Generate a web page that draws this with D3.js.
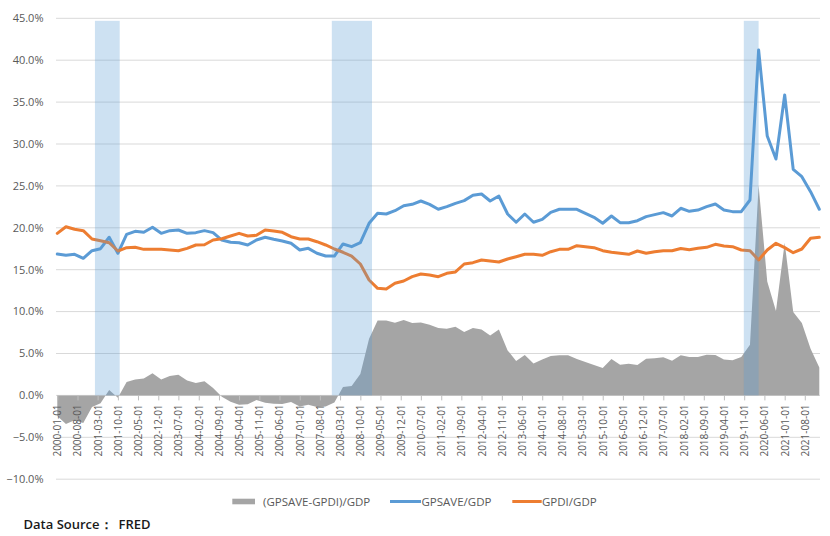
<!DOCTYPE html>
<html>
<head>
<meta charset="utf-8">
<script src="https://cdn.jsdelivr.net/npm/d3@7"></script>
<style>
  html, body { margin: 0; padding: 0; background: #fff; }
  svg { display: block; font-family: "Open Sans", "DejaVu Sans", sans-serif; }
</style>
</head>
<body>
<svg id="chart" width="830" height="536"></svg>
<script>
// ---------- DATA ----------
const firstQuarter = "2000-01-01";
const lastQuarter = "2022-01-01";

const gpsaveGdp = [
  16.87, 16.72, 16.84, 16.36, 17.27, 17.51, 18.87, 16.96, 19.22, 19.58,
  19.46, 20.06, 19.34, 19.66, 19.74, 19.34, 19.42, 19.66, 19.42, 18.54,
  18.27, 18.22, 17.95, 18.54, 18.87, 18.63, 18.42, 18.15, 17.35, 17.55,
  16.96, 16.63, 16.63, 18.07, 17.75, 18.22, 20.54, 21.73, 21.65, 22.04,
  22.64, 22.80, 23.20, 22.80, 22.21, 22.52, 22.92, 23.24, 23.88, 24.03,
  23.20, 23.79, 21.65, 20.66, 21.65, 20.66, 21.01, 21.85, 22.21, 22.21,
  22.21, 21.73, 21.25, 20.54, 21.41, 20.61, 20.61, 20.85, 21.33, 21.57,
  21.81, 21.41, 22.33, 21.97, 22.12, 22.52, 22.84, 22.12, 21.93, 21.93,
  23.32, 41.22, 30.95, 28.21, 35.85, 26.98, 26.10, 24.31, 22.21
];

const gpdiGdp = [
  19.34, 20.13, 19.82, 19.66, 18.66, 18.46, 18.22, 17.23, 17.63, 17.67,
  17.43, 17.43, 17.43, 17.35, 17.27, 17.55, 17.95, 17.98, 18.54, 18.70,
  19.02, 19.34, 19.02, 19.10, 19.74, 19.62, 19.46, 18.94, 18.66, 18.66,
  18.34, 17.95, 17.47, 17.08, 16.63, 15.68, 13.77, 12.78, 12.70, 13.38,
  13.65, 14.17, 14.49, 14.37, 14.17, 14.57, 14.73, 15.68, 15.84, 16.16,
  16.04, 15.92, 16.28, 16.55, 16.84, 16.84, 16.72, 17.15, 17.43, 17.43,
  17.86, 17.75, 17.63, 17.27, 17.08, 16.96, 16.84, 17.23, 16.96, 17.15,
  17.27, 17.27, 17.53, 17.39, 17.55, 17.67, 18.03, 17.83, 17.75, 17.35,
  17.27, 16.16, 17.35, 18.15, 17.63, 17.03, 17.47, 18.75, 18.87
];

const gapGdp = [
  -2.47, -3.41, -2.98, -3.30, -1.39, -0.95, 0.65, -0.27, 1.59, 1.91,
  2.03, 2.63, 1.91, 2.31, 2.47, 1.79, 1.47, 1.68, 0.88, -0.16,
  -0.75, -1.12, -1.07, -0.56, -0.87, -0.99, -1.04, -0.79, -1.31, -1.11,
  -1.38, -1.32, -0.84, 0.99, 1.12, 2.54, 6.77, 8.95, 8.95, 8.66,
  8.99, 8.63, 8.71, 8.43, 8.04, 7.95, 8.19, 7.56, 8.04, 7.87,
  7.16, 7.87, 5.37, 4.11, 4.81, 3.82, 4.29, 4.70, 4.78, 4.78,
  4.35, 3.98, 3.62, 3.27, 4.33, 3.65, 3.77, 3.62, 4.37, 4.42,
  4.54, 4.14, 4.80, 4.58, 4.57, 4.85, 4.81, 4.29, 4.18, 4.58,
  6.05, 25.06, 13.60, 10.06, 18.22, 9.95, 8.63, 5.56, 3.34
];

const recessions = [
  ["2001-02-01", "2001-10-20"],
  ["2007-12-05", "2009-02-01"],
  ["2019-10-28", "2020-04-01"]
];
const recessionTop = 44.7;

const xTickLabels = [
  "2000-01-01", "2000-08-01", "2001-03-01", "2001-10-01", "2002-05-01", "2002-12-01",
  "2003-07-01", "2004-02-01", "2004-09-01", "2005-04-01", "2005-11-01", "2006-06-01",
  "2007-01-01", "2007-08-01", "2008-03-01", "2008-10-01", "2009-05-01", "2009-12-01",
  "2010-07-01", "2011-02-01", "2011-09-01", "2012-04-01", "2012-11-01", "2013-06-01",
  "2014-01-01", "2014-08-01", "2015-03-01", "2015-10-01", "2016-05-01", "2016-12-01",
  "2017-07-01", "2018-02-01", "2018-09-01", "2019-04-01", "2019-11-01", "2020-06-01",
  "2021-01-01", "2021-08-01"
];
const yTicks = [-10, -5, 0, 5, 10, 15, 20, 25, 30, 35, 40, 45];

const seriesNames = ["(GPSAVE-GPDI)/GDP", "GPSAVE/GDP", "GPDI/GDP"];
const sourceLabel = "Data Source：";
const sourceName = "FRED";

// ---------- CHART ----------
const parse = d3.utcParse("%Y-%m-%d");
const quarters = d3.utcMonth.every(3).range(parse(firstQuarter), d3.utcDay.offset(parse(lastQuarter), 1));

const colors = { gap: "#a5a5a5", save: "#5b9bd5", inv: "#ed7d31" };
const plot = { left: 56, right: 820 };

const svg = d3.select("#chart");

const x = d3.scaleUtc()
  .domain([parse(firstQuarter), parse(lastQuarter)])
  .range([57.3, 819.3]);
const y = d3.scaleLinear().domain([-10, 45]).range([479.2, 18.3]);

// gridlines
svg.append("g").selectAll("line").data(yTicks).join("line")
  .attr("x1", plot.left).attr("x2", plot.right)
  .attr("y1", d => y(d)).attr("y2", d => y(d))
  .attr("stroke", "#d9d9d9").attr("stroke-width", 1);

// y labels
const fmt = d3.format(".1%");
svg.append("g").selectAll("text").data(yTicks).join("text")
  .attr("x", 43.5).attr("y", d => y(d)).attr("dy", "0.35em")
  .attr("text-anchor", "end")
  .attr("font-size", 11).attr("fill", "#595959")
  .text(d => fmt(d / 100));

// area
const gapData = quarters.map((q, i) => ({ date: q, v: gapGdp[i] }));
svg.append("path").datum(gapData)
  .attr("fill", colors.gap)
  .attr("d", d3.area().x(d => x(d.date)).y0(y(0)).y1(d => y(d.v)));

// x axis
const xAxis = d3.axisBottom(x)
  .tickValues(xTickLabels.map(parse))
  .tickSize(5).tickSizeOuter(0)
  .tickFormat(d3.utcFormat("%Y-%m-%d"));
const gx = svg.append("g").attr("transform", `translate(0,${y(0)})`).call(xAxis);
gx.select(".domain").remove();
gx.selectAll(".tick line").attr("stroke", "#bfbfbf");
gx.selectAll(".tick text")
  .attr("font-family", "\"Open Sans\", sans-serif")
  .attr("font-size", 10).attr("fill", "#595959")
  .attr("transform", "rotate(-90)")
  .attr("text-anchor", "end")
  .attr("x", -9).attr("y", 0).attr("dy", "0.35em");

// lines
const lineGen = arr => d3.line().x((d, i) => x(quarters[i])).y(d => y(d))(arr);
svg.append("path").attr("d", lineGen(gpsaveGdp))
  .attr("fill", "none").attr("stroke", colors.save).attr("stroke-width", 3)
  .attr("stroke-linejoin", "round").attr("stroke-linecap", "round");
svg.append("path").attr("d", lineGen(gpdiGdp))
  .attr("fill", "none").attr("stroke", colors.inv).attr("stroke-width", 3)
  .attr("stroke-linejoin", "round").attr("stroke-linecap", "round");

// recession shading (on top, translucent)
svg.append("g").selectAll("rect").data(recessions).join("rect")
  .attr("x", d => x(parse(d[0])))
  .attr("width", d => x(parse(d[1])) - x(parse(d[0])))
  .attr("y", y(recessionTop))
  .attr("height", y(0) - y(recessionTop))
  .attr("fill", "#5b9bd5").attr("fill-opacity", 0.3);

// legend
const lg = svg.append("g").attr("font-size", 11.5).attr("fill", "#595959");
lg.append("rect").attr("x", 232.3).attr("y", 498.7).attr("width", 22.7).attr("height", 5.6).attr("fill", colors.gap);
lg.append("text").attr("x", 263).attr("y", 505.5).text(seriesNames[0]);
lg.append("line").attr("x1", 390).attr("x2", 421).attr("y1", 501.5).attr("y2", 501.5)
  .attr("stroke", colors.save).attr("stroke-width", 3);
lg.append("text").attr("x", 421.5).attr("y", 505.5).text(seriesNames[1]);
lg.append("line").attr("x1", 512.3).attr("x2", 541.7).attr("y1", 501.5).attr("y2", 501.5)
  .attr("stroke", colors.inv).attr("stroke-width", 3);
lg.append("text").attr("x", 542).attr("y", 505.5).text(seriesNames[2]);

// source
const src = svg.append("text").attr("x", 23.5).attr("y", 528.5)
  .attr("font-size", 13).attr("font-weight", 600).attr("fill", "#1a1a1a");
src.append("tspan").text(sourceLabel);
src.append("tspan").attr("x", 118.5).text(sourceName);
</script>
</body>
</html>
